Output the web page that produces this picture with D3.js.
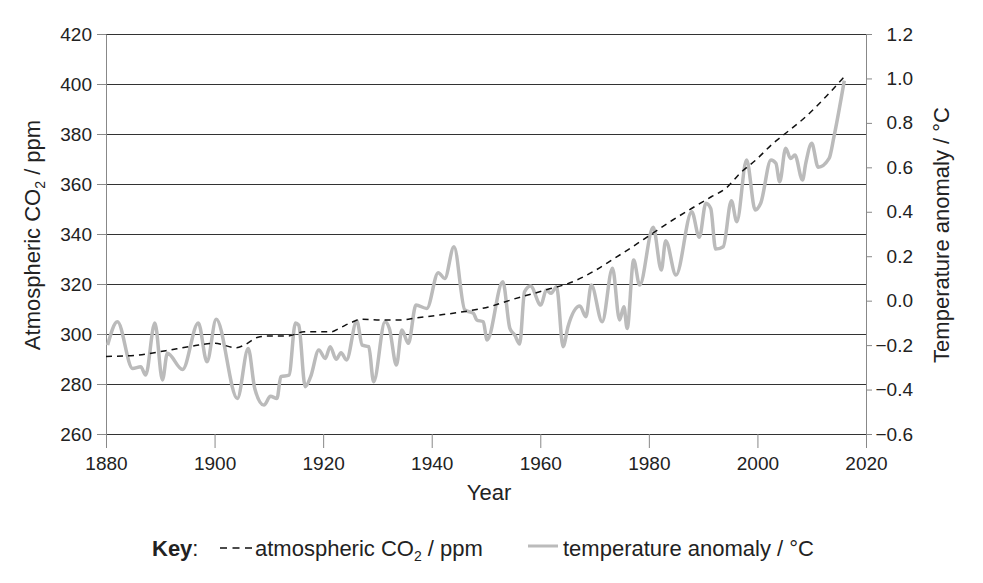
<!DOCTYPE html>
<html>
<head>
<meta charset="utf-8">
<script src="https://cdn.jsdelivr.net/npm/d3@7"></script>
<style>
  body { margin: 0; background: #fff; }
  svg { font-family: "Liberation Sans", Arial, sans-serif; }
  .axis text { font-size: 19px; fill: #222; }
  .axis-title { font-size: 22px; fill: #222; }
  .legend text { font-size: 22px; fill: #222; }
</style>
</head>
<body>
<svg id="chart"></svg>
<script>
// CO2 readings (ppm)
const co2Years = [1880, 1886, 1891, 1896, 1900, 1904, 1905.5, 1908, 1910, 1913.5, 1916.5, 1921.5, 1923,
  1925.3, 1927, 1931, 1934, 1937.3, 1941.5, 1945.8, 1950.6, 1955, 1961, 1966, 1969.7, 1973.4, 1977,
  1980.7, 1984.4, 1988.4, 1991.5, 1994.2, 1996.8, 1999.7, 2002.9, 2005.2, 2008.9, 2012.6, 2016];
const co2Values = [291, 291.6, 293.3, 295.2, 296.3, 294.5, 295.6, 298.7, 299.2, 299.2, 300.9, 300.9, 302.3,
  304.7, 305.9, 305.6, 305.6, 306.5, 307.6, 308.9, 310.9, 313.9, 317.6, 320.9, 324.9, 329.9, 334.9,
  340.3, 345.6, 350.9, 354.9, 358.3, 364.3, 369.6, 376.3, 380.3, 386.9, 394.9, 402.9];

// temperature anomaly (°C), peaks and troughs of the grey line
const tempYears = [1880.3, 1882.1, 1884.9, 1886.4, 1887.3, 1889.0, 1890.4, 1891.3, 1894.1, 1897.0, 1898.6,
  1900.3, 1904.2, 1906.2, 1907.4, 1909.1, 1910.3, 1911.5, 1912.2, 1913.7, 1914.9, 1915.5, 1916.7, 1917.7,
  1919.2, 1920.4, 1921.3, 1922.4, 1923.3, 1924.3, 1926.2, 1927.2, 1928.4, 1929.3, 1931.4, 1932.2, 1933.5,
  1934.5, 1935.7, 1937.1, 1939.1, 1941.2, 1942.4, 1944.1, 1946.1, 1947.7, 1948.3, 1949.5, 1950.2, 1953.1,
  1954.4, 1955.3, 1956.2, 1957.1, 1958.2, 1960.1, 1961.1, 1962.0, 1963.0, 1964.2, 1965.1, 1967.3, 1968.4,
  1969.4, 1971.4, 1973.3, 1974.6, 1975.4, 1976.0, 1977.2, 1978.3, 1980.8, 1982.3, 1983.1, 1985.0, 1987.9,
  1989.3, 1990.5, 1991.4, 1992.3, 1993.7, 1995.2, 1996.2, 1998.0, 1999.6, 2000.6, 2002.5, 2003.4, 2004.1,
  2005.2, 2006.1, 2006.9, 2008.3, 2008.9, 2010.0, 2011.2, 2013.2, 2014.1, 2016.0];
const tempValues = [-0.20, -0.095, -0.305, -0.297, -0.335, -0.10, -0.357, -0.237, -0.31, -0.10, -0.275,
  -0.084, -0.44, -0.215, -0.395, -0.47, -0.43, -0.44, -0.342, -0.335, -0.10, -0.11, -0.387, -0.342,
  -0.222, -0.26, -0.207, -0.264, -0.234, -0.267, -0.09, -0.20, -0.207, -0.365, -0.095, -0.125, -0.29,
  -0.132, -0.192, -0.02, -0.035, 0.126, 0.10, 0.243, -0.042, -0.057, -0.087, -0.095, -0.177, 0.085,
  -0.125, -0.155, -0.195, 0.04, 0.066, -0.02, 0.048, 0.033, 0.063, -0.207, -0.117, -0.024, -0.072,
  0.07, -0.095, 0.146, -0.087, -0.027, -0.125, 0.183, 0.07, 0.33, 0.138, 0.27, 0.115, 0.40,
  0.285, 0.438, 0.415, 0.232, 0.243, 0.45, 0.355, 0.633, 0.408, 0.438, 0.633, 0.618, 0.535,
  0.686, 0.64, 0.655, 0.543, 0.618, 0.708, 0.60, 0.64, 0.738, 0.99];

const yearTicks = [1880, 1900, 1920, 1940, 1960, 1980, 2000, 2020];
const co2Ticks = [260, 280, 300, 320, 340, 360, 380, 400, 420];
const tempTicks = [-0.6, -0.4, -0.2, 0.0, 0.2, 0.4, 0.6, 0.8, 1.0, 1.2];

const width = 983, height = 583;
const margin = {top: 34, right: 117, bottom: 149, left: 106};
const innerW = width - margin.left - margin.right;
const innerH = height - margin.top - margin.bottom;

const svg = d3.select('#chart')
    .attr('width', width)
    .attr('height', height);

const chart = svg.append('g')
    .attr('transform', `translate(${margin.left},${margin.top})`);

const xScale = d3.scaleLinear().domain([1880, 2020]).range([0, innerW]);
const yLeft = d3.scaleLinear().domain([260, 420]).range([innerH, 0]);
const yRight = d3.scaleLinear().domain([-0.6, 1.2]).range([innerH, 0]);

const minus = v => d3.format('.1f')(v).replace('-', '\u2212');

// gridlines from the CO2 ticks
chart.append('g')
    .selectAll('line')
    .data(co2Ticks)
    .join('line')
    .attr('x1', 0)
    .attr('x2', innerW)
    .attr('y1', d => Math.round(yLeft(d)) + 0.5)
    .attr('y2', d => Math.round(yLeft(d)) + 0.5)
    .attr('stroke', '#333')
    .attr('stroke-width', 1);

// axes
const styleAxis = g => {
    g.selectAll('.domain').attr('stroke', '#888');
    g.selectAll('.tick line').attr('stroke', '#888');
};

chart.append('g')
    .attr('class', 'axis')
    .attr('transform', `translate(0,${innerH})`)
    .call(d3.axisBottom(xScale).tickValues(yearTicks).tickFormat(d3.format('d'))
        .tickSize(14).tickSizeOuter(0).tickPadding(9))
    .call(g => g.select('.domain').remove())
    .call(styleAxis);

chart.append('g')
    .attr('class', 'axis')
    .call(d3.axisLeft(yLeft).tickValues(co2Ticks).tickSize(9).tickSizeOuter(0).tickPadding(5))
    .call(styleAxis);

chart.append('g')
    .attr('class', 'axis')
    .attr('transform', `translate(${innerW},0)`)
    .call(d3.axisRight(yRight).tickValues(tempTicks).tickFormat(minus).tickSize(6).tickSizeOuter(0).tickPadding(0))
    .call(styleAxis)
    .call(g => g.selectAll('.tick text').attr('text-anchor', 'end').attr('x', 47));

// left axis line extends down past the bottom gridline
chart.append('line')
    .attr('x1', 0.5).attr('x2', 0.5)
    .attr('y1', innerH).attr('y2', innerH + 14)
    .attr('stroke', '#888');

// lines
const tempLine = d3.line()
    .x((d, i) => xScale(tempYears[i]))
    .y(d => yRight(d))
    .curve(d3.curveMonotoneX);

const co2Line = d3.line()
    .x((d, i) => xScale(co2Years[i]))
    .y(d => yLeft(d))
    .curve(d3.curveMonotoneX);

chart.append('path')
    .datum(tempValues)
    .attr('d', tempLine)
    .attr('fill', 'none')
    .attr('stroke', '#bbbbbb')
    .attr('stroke-width', 3.5)
    .attr('stroke-linejoin', 'round');

chart.append('path')
    .datum(co2Values)
    .attr('d', co2Line)
    .attr('fill', 'none')
    .attr('stroke', '#111')
    .attr('stroke-width', 1.5)
    .attr('stroke-dasharray', '6,5');

// axis titles
svg.append('text')
    .attr('class', 'axis-title')
    .attr('x', margin.left + innerW / 2 + 3)
    .attr('y', 500)
    .attr('text-anchor', 'middle')
    .text('Year');

const leftTitle = svg.append('text')
    .attr('class', 'axis-title')
    .attr('transform', 'translate(40,235) rotate(-90)')
    .attr('text-anchor', 'middle');
leftTitle.append('tspan').text('Atmospheric CO');
leftTitle.append('tspan').attr('font-size', 14).attr('dy', 5).text('2');
leftTitle.append('tspan').attr('dy', -5).text(' / ppm');

svg.append('text')
    .attr('class', 'axis-title')
    .attr('transform', 'translate(949,235) rotate(-90)')
    .attr('text-anchor', 'middle')
    .text('Temperature anomaly / \u00B0C');

// key
const legend = svg.append('g').attr('class', 'legend');
const keyText = legend.append('text').attr('x', 152).attr('y', 556);
keyText.append('tspan').attr('font-weight', 'bold').text('Key');
keyText.append('tspan').text(':');

legend.append('line')
    .attr('x1', 220).attr('x2', 252)
    .attr('y1', 548).attr('y2', 548)
    .attr('stroke', '#111')
    .attr('stroke-width', 1.5)
    .attr('stroke-dasharray', '7,5.5');

const co2Key = legend.append('text').attr('x', 255).attr('y', 556);
co2Key.append('tspan').text('atmospheric CO');
co2Key.append('tspan').attr('font-size', 14).attr('dy', 5).text('2');
co2Key.append('tspan').attr('dy', -5).text(' / ppm');

legend.append('line')
    .attr('x1', 528).attr('x2', 558)
    .attr('y1', 546).attr('y2', 546)
    .attr('stroke', '#bbbbbb')
    .attr('stroke-width', 3);

legend.append('text')
    .attr('x', 563).attr('y', 556)
    .text('temperature anomaly / \u00B0C');
</script>
</body>
</html>
